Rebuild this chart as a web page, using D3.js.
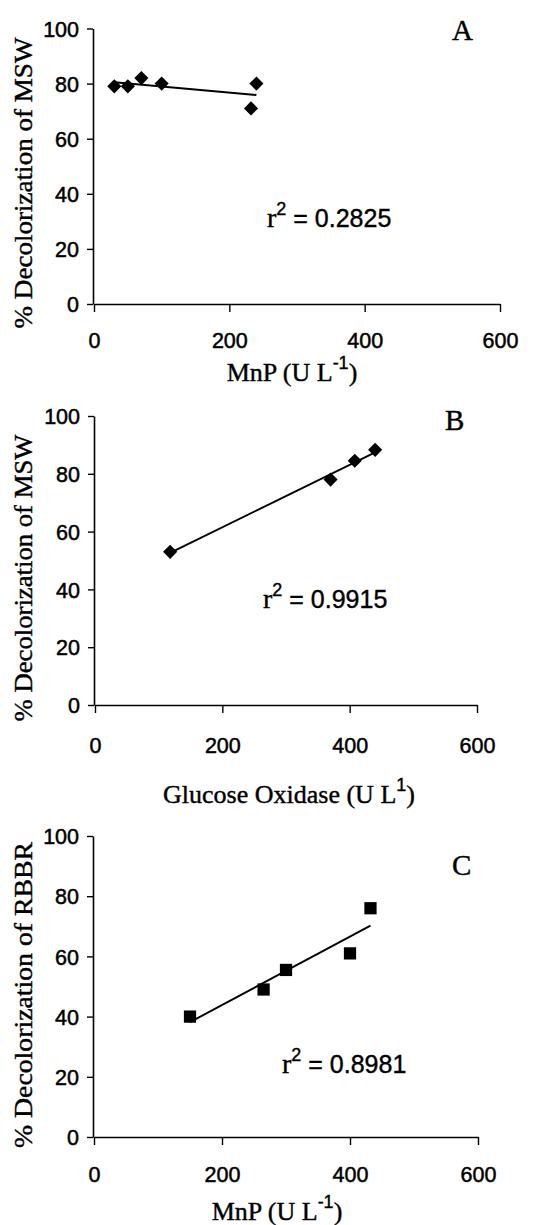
<!DOCTYPE html>
<html><head><meta charset="utf-8">
<script src="https://cdn.jsdelivr.net/npm/d3@7"></script>
<style>
html,body{margin:0;padding:0;background:#fff;}
svg{display:block;}
.tick text{font-family:"Liberation Sans",Arial,sans-serif;font-size:21.5px;fill:#000;stroke:#000;stroke-width:0.5px;}
.serif{font-family:"Liberation Serif","Times New Roman",serif;}
.ink{stroke:#000;stroke-width:0.4px;}
</style></head>
<body>
<script>
// ---- data ----
const xTicks = [0, 200, 400, 600];
const yTicks = [0, 20, 40, 60, 80, 100];

const aMnP   = [30, 50, 70, 100, 232, 240];
const aDecol = [79, 79, 82, 80, 71, 80];

const bGOx   = [118, 370, 408, 440];
const bDecol = [53, 78, 84.5, 88.3];

const cMnP   = [150, 265, 300, 400, 432];
const cDecol = [40, 49, 55.5, 61, 76];

const panelLetters = ["A", "B", "C"];
const r2Values = ["0.2825", "0.9915", "0.8981"];
const yLabels = ["% Decolorization of MSW", "% Decolorization of MSW", "% Decolorization of RBBR"];
const xLabelMain = ["MnP (U L", "Glucose Oxidase (U L", "MnP (U L"];
const xLabelSup = ["-1", "1", "-1"];

// ---- layout ----
const W = 553, H = 1225;
const svg = d3.select("body").append("svg").attr("width", W).attr("height", H);

const panels = [
  {xs: aMnP, ys: aDecol, x0: 94, x1: 500, y0: 304, y1: 28.5, marker: "diamond",
   letter: [452, 40], r2: [267, 227], yl: [24, 183, 291], xl: [292, 381], xlBase: 348},
  {xs: bGOx, ys: bDecol, x0: 95, x1: 477, y0: 705, y1: 416, marker: "diamond",
   letter: [445, 430], r2: [263, 608], yl: [24, 578, 287], xl: [289, 803], xlBase: 753},
  {xs: cMnP, ys: cDecol, x0: 94, x1: 478, y0: 1137, y1: 836, marker: "square",
   letter: [452, 875], r2: [282, 1073], yl: [24, 995, 306], xl: [277, 1220], xlBase: 1182}
];

function fit(xs, ys) {
  const n = xs.length;
  const mx = d3.mean(xs), my = d3.mean(ys);
  let sxy = 0, sxx = 0;
  for (let i = 0; i < n; i++) { sxy += (xs[i]-mx)*(ys[i]-my); sxx += (xs[i]-mx)**2; }
  const b = sxy / sxx;
  return {b, a: my - b*mx};
}

panels.forEach((p, i) => {
  const x = d3.scaleLinear().domain([0, 600]).range([p.x0, p.x1]);
  const y = d3.scaleLinear().domain([0, 100]).range([p.y0, p.y1]);
  const g = svg.append("g");

  // axes
  const xa = g.append("g").attr("transform", `translate(0,${p.y0})`)
    .call(d3.axisBottom(x).tickValues(xTicks).tickSize(8).tickSizeOuter(0).tickPadding(p.xlBase - p.y0 - 8 - 15));
  const ya = g.append("g").attr("transform", `translate(${p.x0 - 1},0)`)
    .call(d3.axisLeft(y).tickValues(yTicks).tickSize(6).tickSizeOuter(0).tickPadding(8));
  [xa, ya].forEach(a => {
    a.select(".domain").attr("stroke", "#000").attr("stroke-width", 1.6);
    a.selectAll(".tick line").attr("stroke", "#000").attr("stroke-width", 1.4);
  });
  ya.selectAll(".tick text").attr("dy", "0.36em");

  // trend line
  const f = fit(p.xs, p.ys);
  const xmin = d3.min(p.xs), xmax = d3.max(p.xs);
  g.append("line")
    .attr("x1", x(xmin)).attr("y1", y(f.a + f.b*xmin))
    .attr("x2", x(xmax)).attr("y2", y(f.a + f.b*xmax))
    .attr("stroke", "#000").attr("stroke-width", 1.9);

  // markers
  const sym = p.marker === "diamond"
    ? d3.symbol().type(d3.symbolSquare).size(100)
    : d3.symbol().type(d3.symbolSquare).size(150);
  g.selectAll("path.pt").data(p.xs.map((v, k) => [v, p.ys[k]])).enter()
    .append("path").attr("class", "pt")
    .attr("d", sym)
    .attr("transform", d => `translate(${x(d[0])},${y(d[1])})` + (p.marker === "diamond" ? " rotate(45)" : ""))
    .attr("fill", "#000");

  // panel letter
  g.append("text").attr("class", "serif ink").attr("x", p.letter[0]).attr("y", p.letter[1])
    .attr("font-size", 29).text(panelLetters[i]);

  // r^2
  const rt = g.append("text").attr("class", "ink").attr("x", p.r2[0]).attr("y", p.r2[1]).attr("font-size", 25);
  rt.append("tspan").attr("class", "serif").attr("font-size", 28).text("r");
  rt.append("tspan").attr("font-family", "Liberation Sans, Arial, sans-serif").attr("font-size", 18).attr("dy", -12).text("2");
  rt.append("tspan").attr("font-family", "Liberation Sans, Arial, sans-serif").attr("dy", 12).text(" = " + r2Values[i]);

  // y label
  g.append("text").attr("class", "serif ink")
    .attr("transform", `translate(${p.yl[0] + 8},${p.yl[1]}) rotate(-90)`)
    .attr("text-anchor", "middle").attr("font-size", 25)
    .attr("textLength", p.yl[2]).attr("lengthAdjust", "spacingAndGlyphs")
    .text(yLabels[i]);

  // x label
  const xt = g.append("text").attr("class", "serif ink").attr("x", p.xl[0]).attr("y", p.xl[1])
    .attr("text-anchor", "middle").attr("font-size", 26);
  xt.append("tspan").text(xLabelMain[i]);
  xt.append("tspan").attr("font-family", "Liberation Sans, Arial, sans-serif").attr("font-size", 18).attr("dy", -12).text(xLabelSup[i]);
  xt.append("tspan").attr("dy", 12).text(")");
});
</script>
</body></html>
